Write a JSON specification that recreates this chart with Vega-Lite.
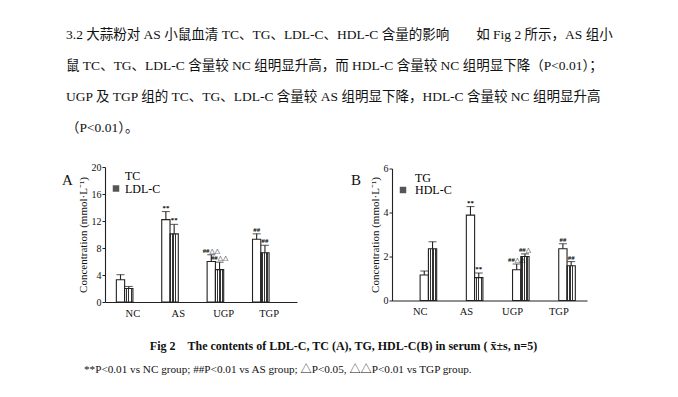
{
  "$schema": "https://vega.github.io/schema/vega-lite/v6.json",
  "background": "white",
  "padding": {"left": 62, "top": 27, "right": 5, "bottom": 5},
  "config": {
    "font": "Liberation Serif, 'Noto Sans CJK SC'",
    "view": {"stroke": null},
    "axis": {"grid": false, "domain": true, "domainWidth": 1.1, "domainColor": "#222", "tickColor": "#222", "labelColor": "#111", "titleColor": "#111", "labelFont": "Liberation Serif", "titleFont": "Liberation Serif"},
    "axisY": {"tickSize": 3, "labelPadding": 1, "labelFontSize": 10, "titleFontSize": 11, "titleFontWeight": "normal", "titlePadding": 3},
    "axisX": {"title": null, "labelAngle": 0, "ticks": false, "labelPadding": 6, "labelFontSize": 10.5},
    "legend": {"labelFont": "Liberation Serif"},
    "title": {"color": "#111"}
  },
  "datasets": {
    "a": [
      {"group": "NC", "measure": "TC", "value": 3.3, "upper": 4.05, "label": ""},
      {"group": "NC", "measure": "LDL-C", "value": 2.0, "upper": 2.3, "label": ""},
      {"group": "AS", "measure": "TC", "value": 12.2, "upper": 13.4, "label": "**"},
      {"group": "AS", "measure": "LDL-C", "value": 10.1, "upper": 11.5, "label": "**"},
      {"group": "UGP", "measure": "TC", "value": 6.0, "upper": 7.0, "label": "##△△"},
      {"group": "UGP", "measure": "LDL-C", "value": 4.8, "upper": 5.9, "label": "##△△"},
      {"group": "TGP", "measure": "TC", "value": 9.3, "upper": 10.1, "label": "##"},
      {"group": "TGP", "measure": "LDL-C", "value": 7.3, "upper": 8.4, "label": "##"}
    ],
    "b": [
      {"group": "NC", "measure": "TG", "value": 1.16, "upper": 1.34, "label": ""},
      {"group": "NC", "measure": "HDL-C", "value": 2.35, "upper": 2.67, "label": ""},
      {"group": "AS", "measure": "TG", "value": 3.88, "upper": 4.27, "label": "**"},
      {"group": "AS", "measure": "HDL-C", "value": 1.04, "upper": 1.25, "label": "**"},
      {"group": "UGP", "measure": "TG", "value": 1.4, "upper": 1.66, "label": "##△△"},
      {"group": "UGP", "measure": "HDL-C", "value": 2.0, "upper": 2.12, "label": "##△"},
      {"group": "TGP", "measure": "TG", "value": 2.35, "upper": 2.58, "label": "##"},
      {"group": "TGP", "measure": "HDL-C", "value": 1.58, "upper": 1.77, "label": "##"}
    ]
  },
  "title": {
    "text": [
      "3.2 大蒜粉对 AS 小鼠血清 TC、TG、LDL-C、HDL-C 含量的影响　　如 Fig 2 所示，AS 组小",
      "鼠 TC、TG、LDL-C 含量较 NC 组明显升高，而 HDL-C 含量较 NC 组明显下降（P<0.01）；",
      "UGP 及 TGP 组的 TC、TG、LDL-C 含量较 AS 组明显下降，HDL-C 含量较 NC 组明显升高",
      "（P<0.01）。"
    ],
    "anchor": "start",
    "fontSize": 13.5,
    "fontWeight": "normal",
    "lineHeight": 31.2,
    "offset": 27,
    "dx": 4
  },
  "vconcat": [
    {
      "title": {
        "text": "**P<0.01 vs NC group; ##P<0.01 vs AS group; △P<0.05, △△P<0.01 vs TGP group.",
        "orient": "bottom", "anchor": "start", "fontSize": 11.2, "fontWeight": "normal", "offset": 12, "dx": 22
      },
      "vconcat": [
        {
          "title": {
            "text": "Fig 2\u00a0\u00a0\u00a0\u00a0The contents of LDL-C, TC (A), TG, HDL-C(B) in serum (\u00a0x̄±s, n=5)",
            "orient": "bottom", "anchor": "middle", "fontSize": 12, "fontWeight": "bold", "offset": 22, "dx": 19
          },
          "bounds": "flush",
          "center": true,
          "spacing": 95,
          "resolve": {"scale": {"fill": "independent", "y": "independent"}, "legend": {"fill": "independent"}},
          "hconcat": [
            {
              "width": 192, "height": 135,
              "title": {"text": "A", "anchor": "start", "frame": "group", "fontSize": 15, "fontWeight": "normal", "dx": -43, "dy": 26, "offset": 0, "font": "Liberation Serif"},
              "data": {"name": "a"},
              "encoding": {
                "x": {"field": "group", "type": "nominal", "sort": ["NC", "AS", "UGP", "TGP"],
                      "scale": {"paddingInner": 0.27, "paddingOuter": 0.25}},
                "xOffset": {"field": "measure", "type": "nominal", "scale": {"domain": ["TC", "LDL-C"], "paddingInner": 0, "paddingOuter": 0}}
              },
              "layer": [
                {
                  "transform": [{"filter": "datum.measure === 'TC'"}],
                  "mark": {"type": "bar", "stroke": "#222", "strokeWidth": 1.1},
                  "encoding": {
                    "y": {"field": "value", "type": "quantitative", "scale": {"domain": [0, 20]},
                          "axis": {"values": [0, 4, 8, 12, 16, 20], "title": "Concentration (mmol·L⁻¹)"}},
                    "fill": {"field": "measure", "type": "nominal",
                             "scale": {"domain": ["TC", "LDL-C"], "range": ["white", "#555"]},
                             "legend": {"title": null, "orient": "top-left", "offset": 3, "padding": 0, "symbolOffset": 2, "symbolType": "square", "symbolSize": 42,
                                        "symbolStrokeColor": "#222", "symbolStrokeWidth": 1, "labelFontSize": 12, "labelOffset": 3, "rowPadding": 0.5,
                                        "encode": {"symbols": {"update": {"fill": [{"test": "datum.value === 'LDL-C'", "value": {"gradient": "linear", "x1": 0, "y1": 0, "x2": 1, "y2": 0, "stops": [
                                          {"offset": 0, "color": "#333"}, {"offset": 0.2, "color": "#333"}, {"offset": 0.2, "color": "white"}, {"offset": 0.35, "color": "white"},
                                          {"offset": 0.35, "color": "#333"}, {"offset": 0.55, "color": "#333"}, {"offset": 0.55, "color": "white"}, {"offset": 0.7, "color": "white"},
                                          {"offset": 0.7, "color": "#333"}, {"offset": 0.9, "color": "#333"}, {"offset": 0.9, "color": "white"}, {"offset": 1, "color": "white"}]}}, {"value": "white"}]}}}}}
                  }
                },
                {
                  "transform": [{"filter": "datum.measure === 'LDL-C'"}],
                  "mark": {"type": "bar", "stroke": "#222", "strokeWidth": 1.1,
                           "fill": {"gradient": "linear", "x1": 0, "y1": 0, "x2": 1, "y2": 0, "stops": [
                               {"offset": 0, "color": "#333"}, {"offset": 0.1, "color": "#333"}, {"offset": 0.1, "color": "white"}, {"offset": 0.2, "color": "white"},
                               {"offset": 0.2, "color": "#333"}, {"offset": 0.3, "color": "#333"}, {"offset": 0.3, "color": "white"}, {"offset": 0.4, "color": "white"},
                               {"offset": 0.4, "color": "#333"}, {"offset": 0.5, "color": "#333"}, {"offset": 0.5, "color": "white"}, {"offset": 0.6, "color": "white"},
                               {"offset": 0.6, "color": "#333"}, {"offset": 0.7, "color": "#333"}, {"offset": 0.7, "color": "white"}, {"offset": 0.8, "color": "white"},
                               {"offset": 0.8, "color": "#333"}, {"offset": 0.9, "color": "#333"}, {"offset": 0.9, "color": "white"}, {"offset": 1, "color": "white"}]}},
                  "encoding": {"y": {"field": "value", "type": "quantitative", "axis": {"values": [0, 4, 8, 12, 16, 20], "title": "Concentration (mmol·L⁻¹)"}}}
                },
                {
                  "mark": {"type": "rule", "color": "#222", "strokeWidth": 1.1},
                  "encoding": {"y": {"field": "value", "type": "quantitative", "axis": {"values": [0, 4, 8, 12, 16, 20], "title": "Concentration (mmol·L⁻¹)"}}, "y2": {"field": "upper"}}
                },
                {
                  "mark": {"type": "tick", "color": "#222", "thickness": 1.1, "size": 8, "orient": "horizontal"},
                  "encoding": {"y": {"field": "upper", "type": "quantitative", "axis": {"values": [0, 4, 8, 12, 16, 20], "title": "Concentration (mmol·L⁻¹)"}}}
                },
                {
                  "mark": {"type": "text", "baseline": "bottom", "dy": -1, "fontSize": 6.8, "fontWeight": "bold", "font": "Liberation Serif, DejaVu Sans"},
                  "encoding": {"y": {"field": "upper", "type": "quantitative", "axis": {"values": [0, 4, 8, 12, 16, 20], "title": "Concentration (mmol·L⁻¹)"}}, "text": {"field": "label"}}
                }
              ]
            },
            {
              "width": 195, "height": 132,
              "title": {"text": "B", "anchor": "start", "frame": "group", "fontSize": 15, "fontWeight": "normal", "dx": -41, "dy": 24, "offset": 0, "font": "Liberation Serif"},
              "data": {"name": "b"},
              "encoding": {
                "x": {"field": "group", "type": "nominal", "sort": ["NC", "AS", "UGP", "TGP"],
                      "scale": {"paddingInner": 0.28, "paddingOuter": 0.25}},
                "xOffset": {"field": "measure", "type": "nominal", "scale": {"domain": ["TG", "HDL-C"], "paddingInner": 0, "paddingOuter": 0}}
              },
              "layer": [
                {
                  "transform": [{"filter": "datum.measure === 'TG'"}],
                  "mark": {"type": "bar", "stroke": "#222", "strokeWidth": 1.1},
                  "encoding": {
                    "y": {"field": "value", "type": "quantitative", "scale": {"domain": [0, 6]},
                          "axis": {"values": [0, 2, 4, 6], "title": "Concentration (mmol·L⁻¹)"}},
                    "fill": {"field": "measure", "type": "nominal",
                             "scale": {"domain": ["TG", "HDL-C"], "range": ["white", "#555"]},
                             "legend": {"title": null, "orient": "top-left", "offset": 3, "padding": 0, "symbolOffset": 2, "symbolType": "square", "symbolSize": 42,
                                        "symbolStrokeColor": "#222", "symbolStrokeWidth": 1, "labelFontSize": 12, "labelOffset": 6, "rowPadding": 0.5,
                                        "encode": {"symbols": {"update": {"fill": [{"test": "datum.value === 'HDL-C'", "value": {"gradient": "linear", "x1": 0, "y1": 0, "x2": 1, "y2": 0, "stops": [
                                          {"offset": 0, "color": "#333"}, {"offset": 0.2, "color": "#333"}, {"offset": 0.2, "color": "white"}, {"offset": 0.35, "color": "white"},
                                          {"offset": 0.35, "color": "#333"}, {"offset": 0.55, "color": "#333"}, {"offset": 0.55, "color": "white"}, {"offset": 0.7, "color": "white"},
                                          {"offset": 0.7, "color": "#333"}, {"offset": 0.9, "color": "#333"}, {"offset": 0.9, "color": "white"}, {"offset": 1, "color": "white"}]}}, {"value": "white"}]}}}}}
                  }
                },
                {
                  "transform": [{"filter": "datum.measure === 'HDL-C'"}],
                  "mark": {"type": "bar", "stroke": "#222", "strokeWidth": 1.1,
                           "fill": {"gradient": "linear", "x1": 0, "y1": 0, "x2": 1, "y2": 0, "stops": [
                               {"offset": 0, "color": "#333"}, {"offset": 0.1, "color": "#333"}, {"offset": 0.1, "color": "white"}, {"offset": 0.2, "color": "white"},
                               {"offset": 0.2, "color": "#333"}, {"offset": 0.3, "color": "#333"}, {"offset": 0.3, "color": "white"}, {"offset": 0.4, "color": "white"},
                               {"offset": 0.4, "color": "#333"}, {"offset": 0.5, "color": "#333"}, {"offset": 0.5, "color": "white"}, {"offset": 0.6, "color": "white"},
                               {"offset": 0.6, "color": "#333"}, {"offset": 0.7, "color": "#333"}, {"offset": 0.7, "color": "white"}, {"offset": 0.8, "color": "white"},
                               {"offset": 0.8, "color": "#333"}, {"offset": 0.9, "color": "#333"}, {"offset": 0.9, "color": "white"}, {"offset": 1, "color": "white"}]}},
                  "encoding": {"y": {"field": "value", "type": "quantitative", "axis": {"values": [0, 2, 4, 6], "title": "Concentration (mmol·L⁻¹)"}}}
                },
                {
                  "mark": {"type": "rule", "color": "#222", "strokeWidth": 1.1},
                  "encoding": {"y": {"field": "value", "type": "quantitative", "axis": {"values": [0, 2, 4, 6], "title": "Concentration (mmol·L⁻¹)"}}, "y2": {"field": "upper"}}
                },
                {
                  "mark": {"type": "tick", "color": "#222", "thickness": 1.1, "size": 8, "orient": "horizontal"},
                  "encoding": {"y": {"field": "upper", "type": "quantitative", "axis": {"values": [0, 2, 4, 6], "title": "Concentration (mmol·L⁻¹)"}}}
                },
                {
                  "mark": {"type": "text", "baseline": "bottom", "dy": -1, "fontSize": 6.8, "fontWeight": "bold", "font": "Liberation Serif, DejaVu Sans"},
                  "encoding": {"y": {"field": "upper", "type": "quantitative", "axis": {"values": [0, 2, 4, 6], "title": "Concentration (mmol·L⁻¹)"}}, "text": {"field": "label"}}
                }
              ]
            }
          ]
        }
      ]
    }
  ]
}
